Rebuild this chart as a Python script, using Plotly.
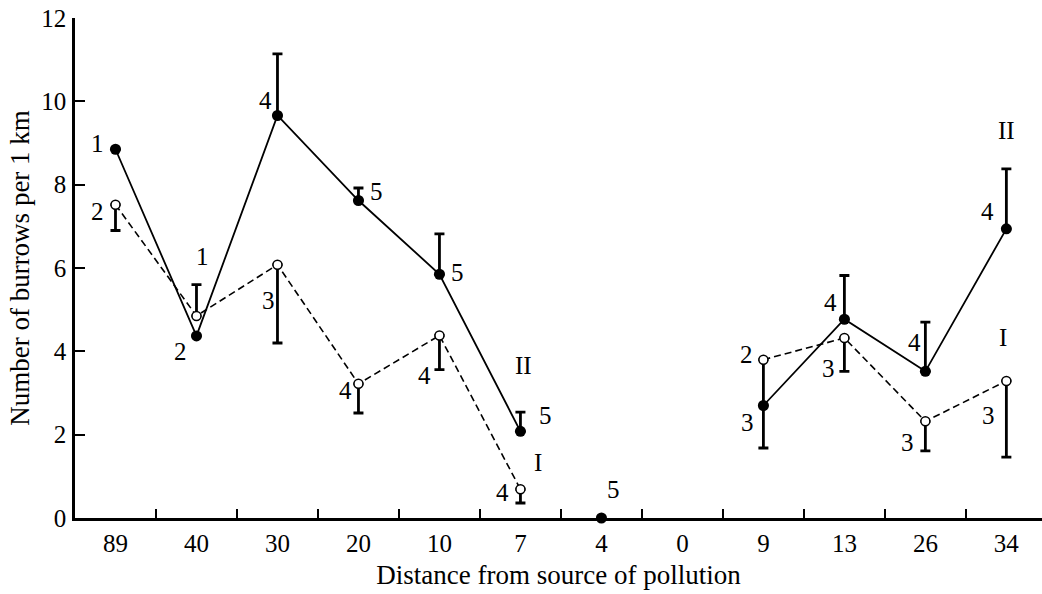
import plotly.graph_objects as go

# ---- data ----
categories = ["89", "40", "30", "20", "10", "7", "4", "0", "9", "13", "26", "34"]

# Series II (filled circles, solid line)
II_values = [8.85, 4.37, 9.66, 7.62, 5.85, 2.08, 0.0, None, 2.70, 4.77, 3.52, 6.94]
II_err_plus = [None, None, 1.48, 0.30, 0.97, 0.46, None, None, None, 1.05, 1.18, 1.44]
II_n = ["1", "2", "4", "5", "5", "5", "5", "", "3", "4", "4", "4"]

# Series I (open circles, dashed line)
I_values = [7.52, 4.85, 6.08, 3.22, 4.38, 0.69, None, None, 3.80, 4.32, 2.32, 3.29]
I_err_plus = [None, 0.75, None, None, None, None, None, None, None, None, None, None]
I_err_minus = [0.62, None, 1.88, 0.70, 0.82, 0.33, None, None, 2.12, 0.80, 0.71, 1.83]
I_n = ["2", "1", "3", "4", "4", "4", "", "", "2", "3", "3", "3"]

series_names = ["I", "II"]
isolated_category = "4"   # point of series II not joined by the line

# ---- layout-only offsets (pixels) for the text labels ----
II_label_offsets = [(-18, 6), (-16, -16), (-12, 15), (18, 9), (18, 2), (25, 16),
                    (12, 29), (0, 0), (-16, -17), (-14, 17), (-11, 29), (-19, 17)]
I_label_offsets = [(-18, -7), (6, 59), (-9, -36), (-13, -7), (-15, -40), (-18, -3),
                   (0, 0), (0, 0), (-17, 5), (-16, -30), (-18, -21), (-18, -35)]

FONT = "Liberation Serif"
FS = 25
FS_TITLE = 27

II_line = [None if c == isolated_category else v for c, v in zip(categories, II_values)]
II_minus = [0 if e is not None else None for e in II_err_plus]

fig = go.Figure()

# error bars (drawn first so markers sit on top)
fig.add_trace(go.Scatter(
    x=categories, y=II_values, mode="markers",
    marker=dict(color="rgba(0,0,0,0)", size=1),
    error_y=dict(type="data", symmetric=False, array=II_err_plus, arrayminus=II_minus,
                 color="black", thickness=2.8, width=5),
    cliponaxis=False, showlegend=False, hoverinfo="skip"))
fig.add_trace(go.Scatter(
    x=categories, y=I_values, mode="markers",
    marker=dict(color="rgba(0,0,0,0)", size=1),
    error_y=dict(type="data", symmetric=False, array=I_err_plus, arrayminus=I_err_minus,
                 color="black", thickness=2.8, width=5),
    cliponaxis=False, showlegend=False, hoverinfo="skip"))

# lines
fig.add_trace(go.Scatter(
    x=categories, y=I_values, mode="lines", connectgaps=False,
    line=dict(color="black", width=1.6, dash="7px,4px"),
    cliponaxis=False, showlegend=False, hoverinfo="skip"))
fig.add_trace(go.Scatter(
    x=categories, y=II_line, mode="lines", connectgaps=False,
    line=dict(color="black", width=1.8),
    cliponaxis=False, showlegend=False, hoverinfo="skip"))

# markers
fig.add_trace(go.Scatter(
    x=categories, y=I_values, mode="markers", name=series_names[0],
    marker=dict(symbol="circle", size=9, color="white", line=dict(color="black", width=1.5)),
    cliponaxis=False, showlegend=False))
fig.add_trace(go.Scatter(
    x=categories, y=II_values, mode="markers", name=series_names[1],
    marker=dict(symbol="circle", size=11, color="black", line=dict(width=0)),
    cliponaxis=False, showlegend=False))

annotations = []


def label(idx, y, text, dx, dy):
    annotations.append(dict(x=idx, y=y, xref="x", yref="y", text=text, showarrow=False,
                            xshift=dx, yshift=dy,
                            font=dict(family=FONT, size=FS, color="black")))


for i, (v, t, (dx, dy)) in enumerate(zip(II_values, II_n, II_label_offsets)):
    if v is not None and t:
        label(i, v, t, dx, dy)
for i, (v, t, (dx, dy)) in enumerate(zip(I_values, I_n, I_label_offsets)):
    if v is not None and t:
        label(i, v, t, dx, dy)

# series name labels
i7 = categories.index("7")
i34 = categories.index("34")
label(i7, II_values[i7], series_names[1], 3, 66)
label(i7, I_values[i7], series_names[0], 18, 27)
label(i34, II_values[i34], series_names[1], 0, 98)
label(i34, I_values[i34], series_names[0], -3, 43)

fig.update_layout(
    width=1042, height=594,
    margin=dict(l=75, r=0, t=18, b=76),
    paper_bgcolor="white", plot_bgcolor="white",
    font=dict(family=FONT, size=FS, color="black"),
    annotations=annotations,
    xaxis=dict(
        type="category", categoryorder="array", categoryarray=categories,
        range=[-0.5, 11.44], tickson="boundaries",
        ticks="inside", ticklen=9, tickwidth=2.4, tickcolor="black",
        showline=True, linewidth=2.6, linecolor="black",
        showgrid=False, zeroline=False,
        tickfont=dict(family=FONT, size=FS, color="black"),
        ticklabelstandoff=1,
        title=dict(text="Distance from source of pollution",
                   font=dict(family=FONT, size=FS_TITLE, color="black"), standoff=10),
    ),
    yaxis=dict(
        range=[0, 12], tickvals=[0, 2, 4, 6, 8, 10, 12],
        ticks="inside", ticklen=10, tickwidth=2.4, tickcolor="black",
        showline=True, linewidth=2.6, linecolor="black",
        showgrid=False, zeroline=False,
        tickfont=dict(family=FONT, size=FS, color="black"),
        ticklabelstandoff=1,
        title=dict(text="Number of burrows per 1 km",
                   font=dict(family=FONT, size=FS_TITLE, color="black"), standoff=4),
    ),
)

fig.write_html("out.html")
